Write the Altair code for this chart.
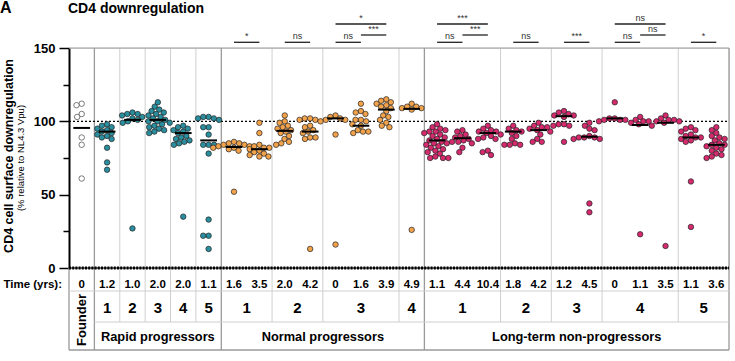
import altair as alt
import pandas as pd
import numpy as np

FONT = "Liberation Sans"

# ---------------- data ----------------
founder = [112, 111, 105, 103, 89, 84, 61]
rp1 = [98, 97, 96, 95, 94, 93, 92, 91, 90, 89, 88, 82, 72, 67]
rp2 = [106, 105, 105, 104, 103, 102, 101, 100, 99, 27]
rp3 = [113, 110, 108, 107, 106, 105, 104, 103, 102, 101, 100, 100, 99, 98, 97, 96, 95, 94, 93, 92]
rp4 = [97, 96, 95, 94, 93, 92, 90, 89, 88, 87, 86, 85, 84, 35]
rp5 = [103, 103, 102, 102, 101, 96, 96, 91, 84, 84, 84, 78, 33, 22, 22, 13]
np1_t1 = [86, 85, 85, 84, 84, 83, 83, 82, 82, 81, 80, 52]
np1_t2 = [99, 92, 84, 83, 82, 82, 81, 80, 79, 78, 77, 76, 76]
np2_t1 = [104, 100, 99, 97, 96, 95, 94, 93, 92, 90, 88, 86, 85, 84]
np2_t2 = [102, 102, 101, 101, 100, 97, 96, 94, 93, 92, 89, 89, 88, 13]
np3_t1 = [104, 103, 102, 101, 101, 91, 16]
np3_t2 = [112, 107, 106, 105, 101, 101, 100, 98, 97, 94, 93, 93, 92]
np3_t3 = [115, 114, 113, 112, 111, 110, 109, 107, 104, 103, 101, 99, 97, 96]
np4_t1 = [112, 110, 110, 109, 109, 108, 26]
lt1_t1 = [98, 96, 95, 94, 93, 93, 92, 91, 90, 89, 88, 87, 86, 85, 85, 84, 83, 82, 81, 80, 79, 78, 76, 75, 75, 75]
lt1_t2 = [94, 93, 91, 90, 89, 88, 87, 86, 86, 85, 82, 79]
lt1_t3 = [97, 95, 94, 93, 93, 92, 91, 90, 89, 88, 88, 80, 79, 77]
lt2_t1 = [97, 95, 94, 93, 92, 90, 88, 85, 84, 84, 84]
lt2_t2 = [99, 97, 96, 96, 95, 94, 93, 91, 88, 86, 86]
lt3_t1 = [107, 106, 105, 104, 104, 103, 98, 98, 97, 97, 86]
lt3_t2 = [99, 97, 95, 94, 90, 89, 89, 89, 88, 88, 44, 38]
lt4_t1 = [113, 102, 102, 101, 101, 101, 100]
lt4_t2 = [103, 101, 100, 100, 99, 98, 97, 23]
lt4_t3 = [104, 102, 101, 101, 100, 100, 99, 15]
lt5_t1 = [96, 95, 94, 93, 91, 90, 89, 89, 88, 87, 86, 59, 28]
lt5_t2 = [96, 94, 92, 90, 89, 88, 87, 85, 84, 84, 83, 82, 81, 80, 78, 77, 76, 75]

series = [founder, rp1, rp2, rp3, rp4, rp5,
          np1_t1, np1_t2, np2_t1, np2_t2, np3_t1, np3_t2, np3_t3, np4_t1,
          lt1_t1, lt1_t2, lt1_t3, lt2_t1, lt2_t2, lt3_t1, lt3_t2,
          lt4_t1, lt4_t2, lt4_t3, lt5_t1, lt5_t2]
series_group = ["Founder"] + ["RP"] * 5 + ["NP"] * 8 + ["LTNP"] * 12

# central (summary) line of each column
center_lines = [95.5, 93, 101, 101, 92, 87,
                82.5, 81, 93.5, 93, 102, 97, 108, 108.5,
                87, 88.5, 92, 93, 94, 103.5, 89.5, 102, 97.5, 99, 89, 84]

time_labels = ["0", "1.2", "1.0", "2.0", "2.0", "1.1",
               "1.6", "3.5", "2.0", "4.2", "0", "1.6", "3.9", "4.9",
               "1.1", "4.4", "10.4", "1.8", "4.2", "1.2", "4.5", "0", "1.1", "3.5", "1.1", "3.6"]

patient_labels = ["1", "2", "3", "4", "5", "1", "2", "3", "4", "1", "2", "3", "4", "5"]
patient_ntp = [1, 1, 1, 1, 1, 2, 2, 3, 1, 3, 2, 2, 3, 2]
group_names = ["Rapid progressors", "Normal progressors", "Long-term non-progressors"]
group_npat = [5, 4, 5]

# significance: (first timepoint, last timepoint, level, label)
sig_from = [6, 8, 10, 11, 10, 14, 15, 14, 17, 19, 21, 22, 21, 24]
sig_to = [7, 9, 11, 12, 12, 15, 16, 16, 18, 20, 22, 23, 23, 25]
sig_level = [0, 0, 0, 1, 2, 0, 1, 2, 0, 0, 0, 1, 2, 0]
sig_text = ["*", "ns", "ns", "***", "*", "ns", "***", "***", "ns", "***", "ns", "ns", "ns", "*"]

# ---------------- layout helpers ----------------
W, H = 660, 220
L, T = 69, 48
NX = 26
def X(px):
    return (px - L) / W * NX
def Y(py):
    return (T + H - py) / H * 150

xs = alt.Scale(domain=[0, NX], nice=False, zero=False)
ys = alt.Scale(domain=[0, 150], nice=False, zero=False)
yaxis = alt.Axis(values=[0, 25, 50, 75, 100, 125, 150],
                 labelExpr="datum.value % 50 == 0 ? datum.label : ''",
                 tickSize={"condition": {"test": "datum.value % 50 == 0", "value": 10}, "value": 6},
                 domainColor="black", domainWidth=2, tickColor="black", tickWidth=1.5,
                 labelFont=FONT, labelFontSize=13, labelFontWeight="bold", labelColor="black",
                 labelPadding=4, grid=False, title=None)

def enc_xy(xf="x", yf="y"):
    return dict(x=alt.X(f"{xf}:Q", scale=xs, axis=None), y=alt.Y(f"{yf}:Q", scale=ys, axis=yaxis))

# ---------------- swarm layout ----------------
def swarm(vals, d=5.4):
    yscale = H / 150
    xscale = W / NX
    order = sorted(range(len(vals)), key=lambda k: -vals[k])
    placed = []
    offs = [0.0] * len(vals)
    for k in order:
        y = vals[k] * yscale
        cands = [0.0]
        for (px, py) in placed:
            dy = abs(py - y)
            if dy < d:
                dx = np.sqrt(d * d - dy * dy)
                cands += [px - dx, px + dx]
        cands.sort(key=lambda c: (abs(c), c))
        best = 0.0
        for c in cands:
            if all((c - px) ** 2 + (y - py) ** 2 >= d * d - 1e-6 for px, py in placed):
                best = c
                break
        placed.append((best, y))
        offs[k] = best / xscale
    return offs

rows = []
med_rows = []
for i, (vals, g) in enumerate(zip(series, series_group)):
    offs = swarm(vals)
    for v, o in zip(vals, offs):
        rows.append({"x": i + 0.5 + o, "y": v, "grp": g})
    med_rows.append({"x": i + 0.5 - 0.33, "x2": i + 0.5 + 0.33, "y": center_lines[i]})
pts = pd.DataFrame(rows)
meds = pd.DataFrame(med_rows)

TEAL, ORANGE, PINK = "#2A8E9E", "#F2A24A", "#D62A6E"
color_scale = alt.Scale(domain=["Founder", "RP", "NP", "LTNP"], range=["white", TEAL, ORANGE, PINK])
stroke_scale = alt.Scale(domain=["Founder", "RP", "NP", "LTNP"], range=["#444444", "#222222", "#222222", "#222222"])

# ---------------- table / grid lines ----------------
Y_TIME_LINE = Y(291)
Y_NUM_LINE = Y(322)
Y_BOTTOM = Y(350)

pat_bounds = list(np.cumsum([1] + patient_ntp))
grp_bounds = [1]
c = 0
for n in group_npat:
    c += n
    grp_bounds.append(pat_bounds[c])
vrows = []
for b in pat_bounds[1:-1]:
    if b in grp_bounds:
        continue
    vrows.append({"x": b, "y": 150, "y2": Y_NUM_LINE, "c": "#cfcfcf", "w": 1})
for b in grp_bounds[:-1]:
    vrows.append({"x": b, "y": 150, "y2": Y_BOTTOM, "c": "#9a9a9a", "w": 1.3})
vrows.append({"x": NX, "y": 150, "y2": Y_BOTTOM, "c": "#9a9a9a", "w": 1.3})
vrows.append({"x": 0, "y": 0, "y2": Y_BOTTOM, "c": "#9a9a9a", "w": 1.3})
vlines = pd.DataFrame(vrows)

hrows = [
    {"x": 0, "x2": NX, "y": 150, "c": "#9a9a9a", "w": 1.2},
    {"x": 0, "x2": NX, "y": Y_TIME_LINE, "c": "#cfcfcf", "w": 1},
    {"x": 1, "x2": NX, "y": Y_NUM_LINE, "c": "#cfcfcf", "w": 1},
    {"x": 0, "x2": NX, "y": Y_BOTTOM, "c": "#9a9a9a", "w": 1.3},
]
hlines = pd.DataFrame(hrows)

def rule_layer(df, has_x2):
    e = enc_xy()
    if has_x2:
        e["x2"] = "x2:Q"
    else:
        e["y2"] = "y2:Q"
    return alt.Chart(df).mark_rule().encode(
        color=alt.Color("c:N", scale=None),
        strokeWidth=alt.StrokeWidth("w:Q", scale=None), **e)

vlayer = rule_layer(vlines, False)
hlayer = rule_layer(hlines, True)

ref100 = alt.Chart(pd.DataFrame({"x": [0], "x2": [NX], "y": [100]})).mark_rule(
    color="black", strokeDash=[2, 2], strokeWidth=1.2).encode(x2="x2:Q", **enc_xy())
zero_solid = alt.Chart(pd.DataFrame({"x": [0], "x2": [NX], "y": [0]})).mark_rule(
    color="black", strokeWidth=1).encode(x2="x2:Q", **enc_xy())
zero_dots = alt.Chart(pd.DataFrame({"x": [0], "x2": [NX], "y": [0]})).mark_rule(
    color="black", strokeWidth=3, strokeDash=[2, 1.2]).encode(x2="x2:Q", **enc_xy())

points = alt.Chart(pts).mark_point(filled=True, shape="circle", size=30, strokeWidth=0.7, opacity=1).encode(
    fill=alt.Fill("grp:N", scale=color_scale, legend=None),
    stroke=alt.Stroke("grp:N", scale=stroke_scale, legend=None),
    **enc_xy())

median = alt.Chart(meds).mark_rule(color="black", strokeWidth=2).encode(x2="x2:Q", **enc_xy())

# significance bars
bar_y = [Y(42.3), Y(35), Y(24)]
sig_bars = pd.DataFrame({
    "x": [a + 0.5 for a in sig_from],
    "x2": [b + 0.5 for b in sig_to],
    "y": [bar_y[l] for l in sig_level],
})
sig_labels = pd.DataFrame({
    "x": [(a + b) / 2 + 0.5 for a, b in zip(sig_from, sig_to)],
    "y": [bar_y[l] + 3 * 150 / H for l in sig_level],
    "t": sig_text,
})
sig_bar_layer = alt.Chart(sig_bars).mark_rule(color="#222222", strokeWidth=1.3).encode(x2="x2:Q", **enc_xy())

def text_layer(df, size, weight="bold", angle=0, align="center", baseline="middle", color="black"):
    kw = dict(fontSize=size, fontWeight=weight, align=align, baseline=baseline, color=color, font=FONT)
    if angle:
        kw["angle"] = angle
    return alt.Chart(df).mark_text(**kw).encode(text="t:N", **enc_xy())

sig_text_layer = text_layer(sig_labels, 9, weight="normal", baseline="alphabetic", color="#333333")

# table texts
time_df = pd.DataFrame({"x": [i + 0.5 for i in range(NX)], "y": [Y(285)] * NX, "t": time_labels})
pc = [(pat_bounds[k] + pat_bounds[k + 1]) / 2 for k in range(len(patient_labels))]
num_df = pd.DataFrame({"x": pc, "y": [Y(308)] * len(pc), "t": patient_labels})
gc = [(grp_bounds[k] + grp_bounds[k + 1]) / 2 for k in range(len(group_names))]
grp_df = pd.DataFrame({"x": gc, "y": [Y(337)] * len(gc), "t": group_names})

time_layer = text_layer(time_df, 11.5)
num_layer = text_layer(num_df, 15)
grp_layer = text_layer(grp_df, 12.8)
time_hdr = text_layer(pd.DataFrame({"x": [X(62)], "y": [Y(285)], "t": ["Time (yrs):"]}), 11.5, align="right")
founder_lbl = text_layer(pd.DataFrame({"x": [X(81.5)], "y": [Y(320)], "t": ["Founder"]}), 13, angle=270)

ytitle = text_layer(pd.DataFrame({"x": [X(9)], "y": [Y(156)], "t": ["CD4 cell surface downregulation"]}), 12.5, angle=270)
ysub = text_layer(pd.DataFrame({"x": [X(21)], "y": [Y(158)], "t": ["(% relative to NL4.3 Vpu)"]}), 9.5, weight="normal", angle=270)
panel = text_layer(pd.DataFrame({"x": [X(0)], "y": [Y(8)], "t": ["A"]}), 16, align="left")
title = text_layer(pd.DataFrame({"x": [X(68)], "y": [Y(9)], "t": ["CD4 downregulation"]}), 14, align="left")

chart = alt.layer(
    vlayer, hlayer, ref100, zero_solid, zero_dots, points, median,
    sig_bar_layer, sig_text_layer, time_layer, num_layer, grp_layer,
    time_hdr, founder_lbl, ytitle, ysub, panel, title,
).properties(
    width=W, height=H,
    padding={"left": L, "top": T, "right": 735 - L - W, "bottom": 361 - T - H},
    autosize=alt.AutoSizeParams(type="none"),
).configure_view(stroke=None).configure(background="white")

chart.save("out.html", embed_options={"renderer": "svg", "actions": False})
